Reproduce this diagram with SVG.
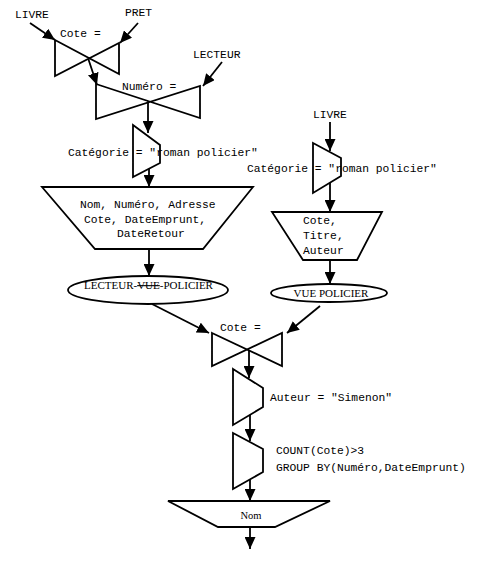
<svg xmlns="http://www.w3.org/2000/svg" width="494" height="565" viewBox="0 0 494 565">
<style>
.t{font-family:"Liberation Mono","Courier New",monospace;font-size:11.3px;fill:#000}
.s{font-family:"Liberation Serif","Times New Roman",serif;font-size:11px;fill:#000}
.sh{fill:#fff;stroke:#000;stroke-width:1.8;stroke-linejoin:miter}
.c{stroke:#000;stroke-width:1.8;fill:none;marker-end:url(#ah)}
</style>
<defs>
<marker id="ah" markerUnits="userSpaceOnUse" markerWidth="12" markerHeight="11" refX="12" refY="5.5" orient="auto">
<path d="M0,0 L12,5.5 L0,11 z" fill="#000"/>
</marker>
</defs>
<rect width="494" height="565" fill="#fff"/>

<g id="connectors">
<line class="c" x1="30" y1="23" x2="55" y2="40"/>
<line class="c" x1="138" y1="23" x2="120" y2="43"/>
<line class="c" x1="88" y1="58" x2="97" y2="85"/>
<line class="c" x1="222" y1="62" x2="203" y2="86"/>
<line class="c" x1="148" y1="103" x2="148" y2="133"/>
<line class="c" x1="149" y1="164" x2="149" y2="187"/>
<line class="c" x1="149" y1="249" x2="149" y2="276"/>
<line class="c" x1="330" y1="122" x2="330" y2="151"/>
<line class="c" x1="330" y1="183" x2="330" y2="212"/>
<line class="c" x1="330" y1="260" x2="330" y2="284"/>
<line class="c" x1="152" y1="304" x2="209" y2="333"/>
<line class="c" x1="320" y1="306" x2="287" y2="333"/>
<line class="c" x1="249" y1="349" x2="249" y2="378"/>
<line class="c" x1="250" y1="415" x2="250" y2="441"/>
<line class="c" x1="250" y1="480" x2="250" y2="501"/>
<line class="c" x1="250" y1="527" x2="250" y2="549"/>
</g>

<g id="join1">
<polygon class="sh" points="55,40 119,74 119,43 55,76"/>
<text class="t" x="60" y="37">Cote =</text>
</g>
<g id="join2">
<polygon class="sh" points="96,84 200,118 200,86 96,119"/>
<text class="t" x="122" y="90">Numéro =</text>
</g>
<g id="select1">
<polygon class="sh" points="133,125 160,145 160,163 133,177"/>
<text class="t" x="68" y="156">Catégorie = "roman policier"</text>
</g>
<g id="project1">
<polygon class="sh" points="42,187 253,187 203,249 95,249"/>
<text class="t" x="80" y="208">Nom, Numéro, Adresse</text>
<text class="t" x="84" y="223">Cote, DateEmprunt,</text>
<text class="t" x="117" y="237">DateRetour</text>
</g>
<g id="view1">
<ellipse class="sh" cx="148" cy="290" rx="80" ry="14"/>
<text class="s" x="84" y="289">LECTEUR-<tspan text-decoration="line-through">VUE</tspan>-POLICIER</text>
</g>
<g id="select2">
<polygon class="sh" points="313,143 341,158 341,176 313,193"/>
<text class="t" x="247" y="172">Catégorie = "roman policier"</text>
</g>
<g id="project2">
<polygon class="sh" points="272,212 382,212 357,260 303,260"/>
<text class="t" x="303" y="224">Cote,</text>
<text class="t" x="303" y="239">Titre,</text>
<text class="t" x="303" y="254">Auteur</text>
</g>
<g id="view2">
<ellipse class="sh" cx="329" cy="293" rx="58" ry="9"/>
<text class="s" x="331" y="297" text-anchor="middle">VUE POLICIER</text>
</g>
<g id="join3">
<polygon class="sh" points="212,333 282,366 282,333 212,366"/>
<text class="t" x="220" y="331">Cote =</text>
</g>
<g id="select3">
<polygon class="sh" points="233,369 263,388 263,407 233,425"/>
<text class="t" x="270" y="401">Auteur = "Simenon"</text>
</g>
<g id="select4">
<polygon class="sh" points="233,433 263,449 263,472 233,489"/>
<text class="t" x="276" y="454">COUNT(Cote)&gt;3</text>
<text class="t" x="276" y="471">GROUP BY(Numéro,DateEmprunt)</text>
</g>
<g id="project3">
<polygon class="sh" points="168,501 330,501 275,527 218,527"/>
<text class="s" x="251" y="519" text-anchor="middle" style="font-size:10.5px">Nom</text>
</g>

<g id="labels">
<text class="t" x="15" y="18">LIVRE</text>
<text class="t" x="125" y="16">PRET</text>
<text class="t" x="193" y="58">LECTEUR</text>
<text class="t" x="313" y="118">LIVRE</text>
</g>
</svg>
